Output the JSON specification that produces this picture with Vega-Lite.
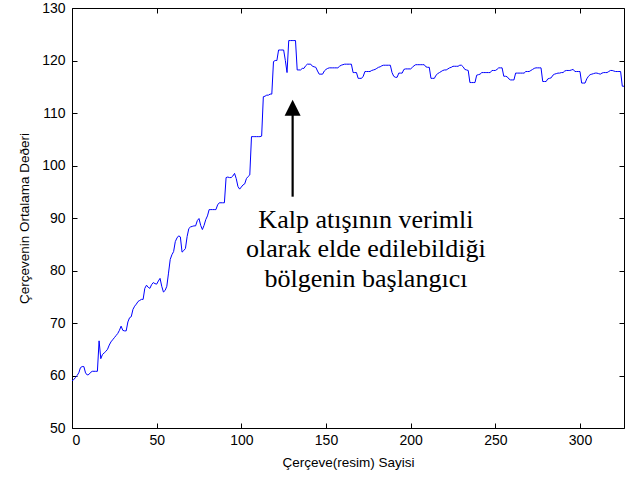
{
  "$schema": "https://vega.github.io/schema/vega-lite/v6.json",
  "width": 552,
  "height": 420,
  "autosize": {"type": "none"},
  "padding": {"left": 72, "top": 8, "right": 1, "bottom": 51},
  "background": "white",
  "config": {
    "view": {"stroke": null},
    "axis": {
      "domainColor": "black", "domainWidth": 1, "tickColor": "black", "tickWidth": 1,
      "grid": false, "labelFont": "Liberation Sans", "labelFontSize": 14, "labelColor": "black",
      "titleFont": "Liberation Sans", "titleFontSize": 13.5, "titleFontWeight": "normal", "titleColor": "black"
    }
  },
  "datasets": {
    "series": [
      {"x":0,"y":59.0},{"x":1,"y":59.2},{"x":2,"y":59.6},{"x":3,"y":60.0},{"x":4,"y":60.5},{"x":5,"y":61.5},{"x":6,"y":61.7},{"x":7,"y":61.7},{"x":8,"y":60.5},{"x":9,"y":60.1},
      {"x":10,"y":60.2},{"x":11,"y":60.6},{"x":12,"y":60.8},{"x":13,"y":60.8},{"x":14,"y":60.8},{"x":15,"y":60.8},{"x":16,"y":66.6},{"x":17,"y":63.2},{"x":18,"y":64.0},{"x":19,"y":64.3},
      {"x":20,"y":64.6},{"x":21,"y":65.0},{"x":22,"y":65.8},{"x":23,"y":66.4},{"x":24,"y":66.8},{"x":25,"y":67.2},{"x":26,"y":67.6},{"x":27,"y":68.0},{"x":28,"y":68.6},{"x":29,"y":69.4},
      {"x":30,"y":68.6},{"x":31,"y":68.5},{"x":32,"y":68.5},{"x":33,"y":70.2},{"x":34,"y":71.0},{"x":35,"y":71.2},{"x":36,"y":72.6},{"x":37,"y":73.2},{"x":38,"y":73.6},{"x":39,"y":74.1},
      {"x":40,"y":74.3},{"x":41,"y":74.5},{"x":42,"y":74.5},{"x":43,"y":76.6},{"x":44,"y":77.2},{"x":45,"y":76.8},{"x":46,"y":76.6},{"x":47,"y":77.3},{"x":48,"y":77.7},{"x":49,"y":77.5},
      {"x":50,"y":77.4},{"x":51,"y":78.0},{"x":52,"y":78.5},{"x":53,"y":77.0},{"x":54,"y":75.9},{"x":55,"y":76.2},{"x":56,"y":77.0},{"x":57,"y":79.5},{"x":58,"y":82.1},{"x":59,"y":83.0},
      {"x":60,"y":83.6},{"x":61,"y":85.5},{"x":62,"y":86.2},{"x":63,"y":86.6},{"x":64,"y":86.4},{"x":65,"y":83.5},{"x":66,"y":83.8},{"x":67,"y":84.2},{"x":68,"y":86.5},{"x":69,"y":88.0},
      {"x":70,"y":88.3},{"x":71,"y":88.4},{"x":72,"y":88.5},{"x":73,"y":88.5},{"x":74,"y":89.5},{"x":75,"y":89.9},{"x":76,"y":88.6},{"x":77,"y":87.8},{"x":78,"y":88.6},{"x":79,"y":89.7},
      {"x":80,"y":90.4},{"x":81,"y":91.6},{"x":82,"y":91.6},{"x":83,"y":91.6},{"x":84,"y":91.6},{"x":85,"y":91.6},{"x":86,"y":92.5},{"x":87,"y":92.9},{"x":88,"y":92.9},{"x":89,"y":92.9},
      {"x":90,"y":92.9},{"x":91,"y":97.7},{"x":92,"y":97.8},{"x":93,"y":97.7},{"x":94,"y":97.7},{"x":95,"y":98.0},{"x":96,"y":98.5},{"x":97,"y":97.5},{"x":98,"y":96.0},{"x":99,"y":95.5},
      {"x":100,"y":95.9},{"x":101,"y":96.3},{"x":102,"y":96.5},{"x":103,"y":97.5},{"x":104,"y":97.9},{"x":105,"y":98.2},{"x":106,"y":105.5},{"x":107,"y":105.5},{"x":108,"y":105.5},{"x":109,"y":105.5},
      {"x":110,"y":105.5},{"x":111,"y":105.5},{"x":112,"y":105.6},{"x":113,"y":113.1},{"x":114,"y":113.2},{"x":115,"y":113.4},{"x":116,"y":113.4},{"x":117,"y":113.6},{"x":118,"y":113.6},{"x":119,"y":119.8},
      {"x":120,"y":120.0},{"x":121,"y":120.0},{"x":122,"y":122.0},{"x":123,"y":122.0},{"x":124,"y":122.0},{"x":125,"y":122.0},{"x":126,"y":120.0},{"x":127,"y":117.7},{"x":128,"y":123.8},{"x":129,"y":123.8},
      {"x":130,"y":123.8},{"x":131,"y":123.8},{"x":132,"y":123.8},{"x":133,"y":118.2},{"x":134,"y":118.2},{"x":135,"y":118.2},{"x":136,"y":118.5},{"x":137,"y":118.5},{"x":138,"y":119.0},{"x":139,"y":119.3},
      {"x":140,"y":119.3},{"x":141,"y":119.3},{"x":142,"y":118.9},{"x":143,"y":118.8},{"x":144,"y":118.7},{"x":145,"y":118.0},{"x":146,"y":117.4},{"x":147,"y":117.4},{"x":148,"y":117.4},{"x":149,"y":118.0},
      {"x":150,"y":118.3},{"x":151,"y":118.5},{"x":152,"y":118.6},{"x":153,"y":118.6},{"x":154,"y":118.6},{"x":155,"y":118.6},{"x":156,"y":118.6},{"x":157,"y":118.6},{"x":158,"y":118.9},{"x":159,"y":119.1},
      {"x":160,"y":119.2},{"x":161,"y":119.3},{"x":162,"y":119.3},{"x":163,"y":119.3},{"x":164,"y":119.3},{"x":165,"y":119.3},{"x":166,"y":117.7},{"x":167,"y":117.7},{"x":168,"y":117.7},{"x":169,"y":116.6},
      {"x":170,"y":116.6},{"x":171,"y":116.6},{"x":172,"y":117.0},{"x":173,"y":117.9},{"x":174,"y":117.9},{"x":175,"y":117.9},{"x":176,"y":117.9},{"x":177,"y":118.1},{"x":178,"y":118.2},{"x":179,"y":118.3},
      {"x":180,"y":118.5},{"x":181,"y":118.7},{"x":182,"y":118.8},{"x":183,"y":119.0},{"x":184,"y":119.1},{"x":185,"y":119.1},{"x":186,"y":119.1},{"x":187,"y":119.1},{"x":188,"y":119.1},{"x":189,"y":117.7},
      {"x":190,"y":117.0},{"x":191,"y":116.8},{"x":192,"y":116.8},{"x":193,"y":117.6},{"x":194,"y":117.6},{"x":195,"y":117.6},{"x":196,"y":118.3},{"x":197,"y":118.4},{"x":198,"y":118.4},{"x":199,"y":118.4},
      {"x":200,"y":118.4},{"x":201,"y":118.7},{"x":202,"y":119.0},{"x":203,"y":119.2},{"x":204,"y":119.2},{"x":205,"y":119.2},{"x":206,"y":119.2},{"x":207,"y":119.2},{"x":208,"y":119.2},{"x":209,"y":118.8},
      {"x":210,"y":118.7},{"x":211,"y":118.7},{"x":212,"y":116.6},{"x":213,"y":116.6},{"x":214,"y":116.6},{"x":215,"y":117.2},{"x":216,"y":117.5},{"x":217,"y":117.7},{"x":218,"y":117.9},{"x":219,"y":118.1},
      {"x":220,"y":118.2},{"x":221,"y":118.2},{"x":222,"y":118.4},{"x":223,"y":118.6},{"x":224,"y":118.7},{"x":225,"y":118.9},{"x":226,"y":118.9},{"x":227,"y":118.9},{"x":228,"y":118.9},{"x":229,"y":119.1},
      {"x":230,"y":119.1},{"x":231,"y":118.8},{"x":232,"y":118.3},{"x":233,"y":118.2},{"x":234,"y":118.1},{"x":235,"y":115.8},{"x":236,"y":115.8},{"x":237,"y":115.8},{"x":238,"y":115.8},{"x":239,"y":117.2},
      {"x":240,"y":117.3},{"x":241,"y":117.4},{"x":242,"y":117.7},{"x":243,"y":117.7},{"x":244,"y":117.7},{"x":245,"y":117.7},{"x":246,"y":117.7},{"x":247,"y":117.7},{"x":248,"y":118.1},{"x":249,"y":118.1},
      {"x":250,"y":118.1},{"x":251,"y":118.3},{"x":252,"y":118.6},{"x":253,"y":118.6},{"x":254,"y":118.6},{"x":255,"y":117.0},{"x":256,"y":117.0},{"x":257,"y":116.9},{"x":258,"y":116.5},{"x":259,"y":116.3},
      {"x":260,"y":116.3},{"x":261,"y":116.3},{"x":262,"y":117.6},{"x":263,"y":117.6},{"x":264,"y":117.6},{"x":265,"y":117.6},{"x":266,"y":117.6},{"x":267,"y":117.6},{"x":268,"y":117.9},{"x":269,"y":117.9},
      {"x":270,"y":117.9},{"x":271,"y":118.1},{"x":272,"y":118.3},{"x":273,"y":118.5},{"x":274,"y":118.6},{"x":275,"y":118.6},{"x":276,"y":118.6},{"x":277,"y":118.6},{"x":278,"y":116.0},{"x":279,"y":116.0},
      {"x":280,"y":116.0},{"x":281,"y":116.5},{"x":282,"y":116.6},{"x":283,"y":116.7},{"x":284,"y":117.2},{"x":285,"y":117.4},{"x":286,"y":117.5},{"x":287,"y":117.6},{"x":288,"y":117.6},{"x":289,"y":117.7},
      {"x":290,"y":117.7},{"x":291,"y":118.0},{"x":292,"y":118.1},{"x":293,"y":118.1},{"x":294,"y":118.1},{"x":295,"y":118.2},{"x":296,"y":118.3},{"x":297,"y":117.9},{"x":298,"y":117.9},{"x":299,"y":117.9},
      {"x":300,"y":117.9},{"x":301,"y":115.7},{"x":302,"y":115.7},{"x":303,"y":115.7},{"x":304,"y":116.5},{"x":305,"y":117.0},{"x":306,"y":117.3},{"x":307,"y":117.4},{"x":308,"y":117.5},{"x":309,"y":117.6},
      {"x":310,"y":117.6},{"x":311,"y":117.5},{"x":312,"y":117.4},{"x":313,"y":117.6},{"x":314,"y":117.7},{"x":315,"y":117.7},{"x":316,"y":117.7},{"x":317,"y":117.9},{"x":318,"y":118.1},{"x":319,"y":118.1},
      {"x":320,"y":118.0},{"x":321,"y":117.9},{"x":322,"y":117.9},{"x":323,"y":117.9},{"x":324,"y":117.9},{"x":325,"y":115.1},{"x":326,"y":115.1}
    ],
    "arrow": [{"x": 130.3, "y": 94.06, "y2": 110.0}],
    "head": [{"x": 130.3, "y": 111.0}],
    "notes": [
      {"x": 173.6, "y": 88.04, "t": "Kalp atışının verimli"},
      {"x": 173.6, "y": 82.6, "t": "olarak elde edilebildiği"},
      {"x": 173.6, "y": 76.9, "t": "bölgenin başlangıcı"}
    ]
  },
  "layer": [
    {
      "data": {"name": "series"},
      "mark": {"type": "line", "color": "#0000ff", "strokeWidth": 1, "clip": true},
      "encoding": {
        "x": {"field": "x", "type": "quantitative", "scale": {"domain": [0, 326], "nice": false, "zero": false},
              "axis": {"orient": "bottom", "values": [0, 50, 100, 150, 200, 250, 300], "tickSize": -5, "labelPadding": 10, "title": "Çerçeve(resim) Sayisi", "titlePadding": 8}},
        "y": {"field": "y", "type": "quantitative", "scale": {"domain": [50, 130], "nice": false, "zero": false},
              "axis": {"orient": "left", "values": [50, 60, 70, 80, 90, 100, 110, 120, 130], "tickSize": -5, "labelPadding": 12, "title": "Çerçevenin Ortalama Deðeri", "titlePadding": 10}}
      }
    },
    {
      "data": {"name": "series"},
      "mark": {"type": "line", "opacity": 0},
      "encoding": {
        "x": {"field": "x", "type": "quantitative", "scale": {"domain": [0, 326], "nice": false, "zero": false},
              "axis": {"orient": "top", "values": [0, 50, 100, 150, 200, 250, 300], "tickSize": -5, "labels": false, "title": null}},
        "y": {"field": "y", "type": "quantitative", "scale": {"domain": [50, 130], "nice": false, "zero": false},
              "axis": {"orient": "right", "values": [50, 60, 70, 80, 90, 100, 110, 120, 130], "tickSize": -5, "labels": false, "title": null}}
      }
    },
    {
      "data": {"name": "arrow"},
      "mark": {"type": "rule", "color": "black", "strokeWidth": 2.2},
      "encoding": {
        "x": {"field": "x", "type": "quantitative", "axis": null},
        "y": {"field": "y", "type": "quantitative", "axis": null},
        "y2": {"field": "y2"}
      }
    },
    {
      "data": {"name": "head"},
      "mark": {"type": "point", "shape": "M0,-1L1,1L-1,1Z", "filled": true, "color": "black", "opacity": 1, "size": 256},
      "encoding": {
        "x": {"field": "x", "type": "quantitative", "axis": null},
        "y": {"field": "y", "type": "quantitative", "axis": null}
      }
    },
    {
      "data": {"name": "notes"},
      "mark": {"type": "text", "font": "Liberation Serif", "fontSize": 26, "color": "black", "align": "center", "baseline": "alphabetic"},
      "encoding": {
        "x": {"field": "x", "type": "quantitative", "axis": null},
        "y": {"field": "y", "type": "quantitative", "axis": null},
        "text": {"field": "t", "type": "nominal"}
      }
    }
  ],
  "resolve": {"axis": {"x": "independent", "y": "independent"}}
}
